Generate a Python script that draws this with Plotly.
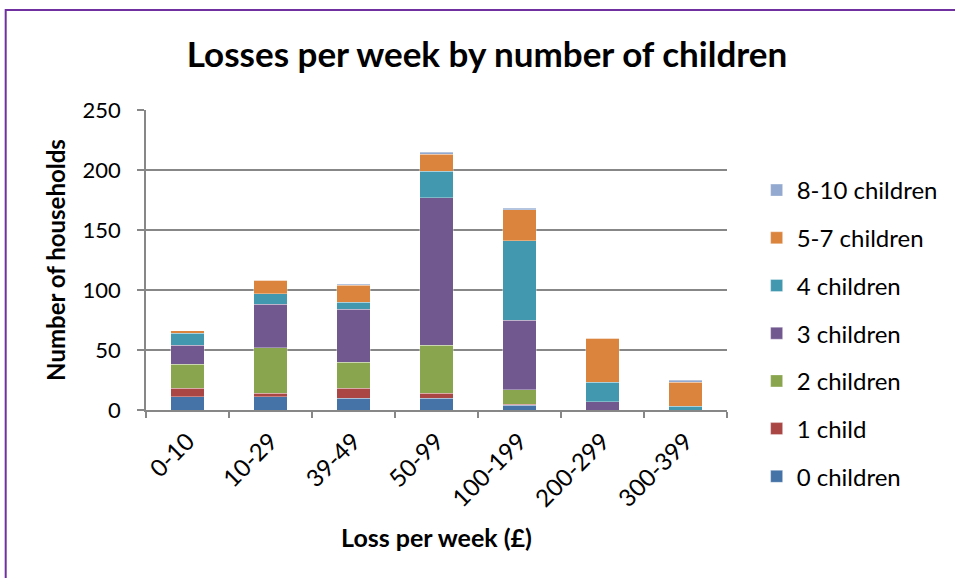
import plotly.graph_objects as go

# Weekly loss bands (£) and household counts by number of children
loss_bands = ["0-10", "10-29", "39-49", "50-99", "100-199", "200-299", "300-399"]

children_0 = [11, 11, 10, 10, 4, 0, 0]
children_1 = [7, 3, 8, 4, 1, 0, 0]
children_2 = [20, 38, 22, 40, 12, 0, 0]
children_3 = [16, 36, 44, 123, 58, 7, 0]
children_4 = [10, 9, 6, 22, 66, 16, 3]
children_5_7 = [2, 11, 14, 14, 26, 37, 20]
children_8_10 = [0, 0, 1, 2, 1, 0, 2]

series = [
    ("0 children", children_0, "#4572A7"),
    ("1 child", children_1, "#AA4643"),
    ("2 children", children_2, "#89A54E"),
    ("3 children", children_3, "#71588F"),
    ("4 children", children_4, "#4198AF"),
    ("5-7 children", children_5_7, "#DB843D"),
    ("8-10 children", children_8_10, "#93A9CF"),
]

FONT = "Lato"
GRID = "#878787"

fig = go.Figure()
n = len(series)
for i, (name, values, colour) in enumerate(series):
    fig.add_trace(go.Bar(
        x=loss_bands,
        y=values,
        name=name,
        legendgroup=f"g{i}",
        legendrank=n - i,
        marker=dict(color=colour, line=dict(width=0.6, color="rgba(255,255,255,0.55)")),
    ))

W, H = 955, 578
L, R, T, B = 146, 221, 110, 168
pw, ph = W - L - R, H - T - B

fig.update_layout(
    width=W,
    height=H,
    barmode="stack",
    bargap=0.6,
    plot_bgcolor="white",
    paper_bgcolor="white",
    margin=dict(l=L, r=R, t=T, b=B),
    font=dict(family=FONT, size=20, color="black"),
    title=dict(
        text="<b>Losses per week by number of children</b>",
        font=dict(family=FONT, size=35, color="black"),
        x=0.51, xanchor="center",
        y=1 - 55 / H, yanchor="middle",
    ),
    legend=dict(
        traceorder="grouped",
        tracegroupgap=13.5,
        x=(764 - L) / pw, xanchor="left",
        y=(H - B - 168) / ph, yanchor="top",
        maxheight=520,
        font=dict(family=FONT, size=24, color="black"),
        bgcolor="rgba(0,0,0,0)",
    ),
    xaxis=dict(
        type="category",
        tickangle=-45,
        ticks="outside",
        tickson="boundaries",
        ticklen=6,
        tickcolor=GRID,
        tickwidth=1.5,
        showline=True,
        linecolor=GRID,
        linewidth=1.5,
        ticklabelstandoff=6,
        tickfont=dict(family=FONT, size=24, color="black"),
        title=dict(text="<b>Loss per week (£)</b>", font=dict(family=FONT, size=25, color="black"), standoff=19),
    ),
    yaxis=dict(
        range=[0, 250],
        dtick=50,
        ticks="outside",
        ticklen=7,
        tickcolor=GRID,
        tickwidth=1.5,
        showline=True,
        linecolor=GRID,
        linewidth=1.5,
        showgrid=True,
        gridcolor=GRID,
        gridwidth=1.5,
        zeroline=False,
        ticklabelstandoff=12,
        tickfont=dict(family=FONT, size=22, color="black"),
        title=dict(text="<b>Number of households</b>", font=dict(family=FONT, size=24, color="black"), standoff=10),
    ),
    shapes=[
        dict(
            type="rect", xref="paper", yref="paper",
            x0=(4 - L) / pw, x1=(W + 60 - L) / pw,
            y0=(H - B - (H + 60)) / ph, y1=(H - B - 10) / ph,
            line=dict(color="#7030A0", width=2),
            fillcolor="rgba(0,0,0,0)",
            layer="below",
        )
    ],
)

fig.write_html("out.html")
